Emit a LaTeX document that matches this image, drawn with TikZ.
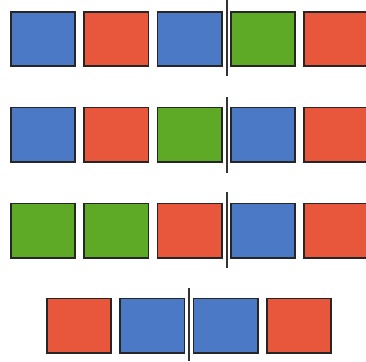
\documentclass[tikz,border=0pt]{standalone}
\begin{document}
\begin{tikzpicture}[x=1pt,y=-1pt,
  sq/.style={draw=black!85,line width=1.8pt,minimum width=64.2pt,minimum height=54.2pt,inner sep=0pt,outer sep=0pt},
  bl/.style={sq,fill=cblue},
  rd/.style={sq,fill=cred},
  gr/.style={sq,fill=cgreen},
  divider/.style={draw=black!80,line width=2pt}]
\definecolor{cblue}{HTML}{4C79C6}
\definecolor{cred}{HTML}{E8573B}
\definecolor{cgreen}{HTML}{5EA926}
\clip (0,0) rectangle (366,361);
\fill[white] (0,0) rectangle (366,361);
% row 1
\node[bl] (a1) at (43,39) {};
\node[rd] (a2) at (116.3,39) {};
\node[bl] (a3) at (189.6,39) {};
\node[gr] (a4) at (262.9,39) {};
\node[rd] (a5) at (336.2,39) {};
\draw[divider] (226.5,0) -- (226.5,76);
% row 2
\node[bl] (b1) at (43,134.5) {};
\node[rd] (b2) at (116.3,134.5) {};
\node[gr] (b3) at (189.6,134.5) {};
\node[bl] (b4) at (262.9,134.5) {};
\node[rd] (b5) at (336.2,134.5) {};
\draw[divider] (226.5,97) -- (226.5,173);
% row 3
\node[gr] (c1) at (43,230.5) {};
\node[gr] (c2) at (116.3,230.5) {};
\node[rd] (c3) at (189.6,230.5) {};
\node[bl] (c4) at (262.9,230.5) {};
\node[rd] (c5) at (336.2,230.5) {};
\draw[divider] (226.5,192) -- (226.5,268);
% row 4
\node[rd] (d1) at (79,325.5) {};
\node[bl] (d2) at (152.3,325.5) {};
\node[bl] (d3) at (225.6,325.5) {};
\node[rd] (d4) at (298.9,325.5) {};
\draw[divider] (189.2,288) -- (189.2,361);
\end{tikzpicture}
\end{document}
